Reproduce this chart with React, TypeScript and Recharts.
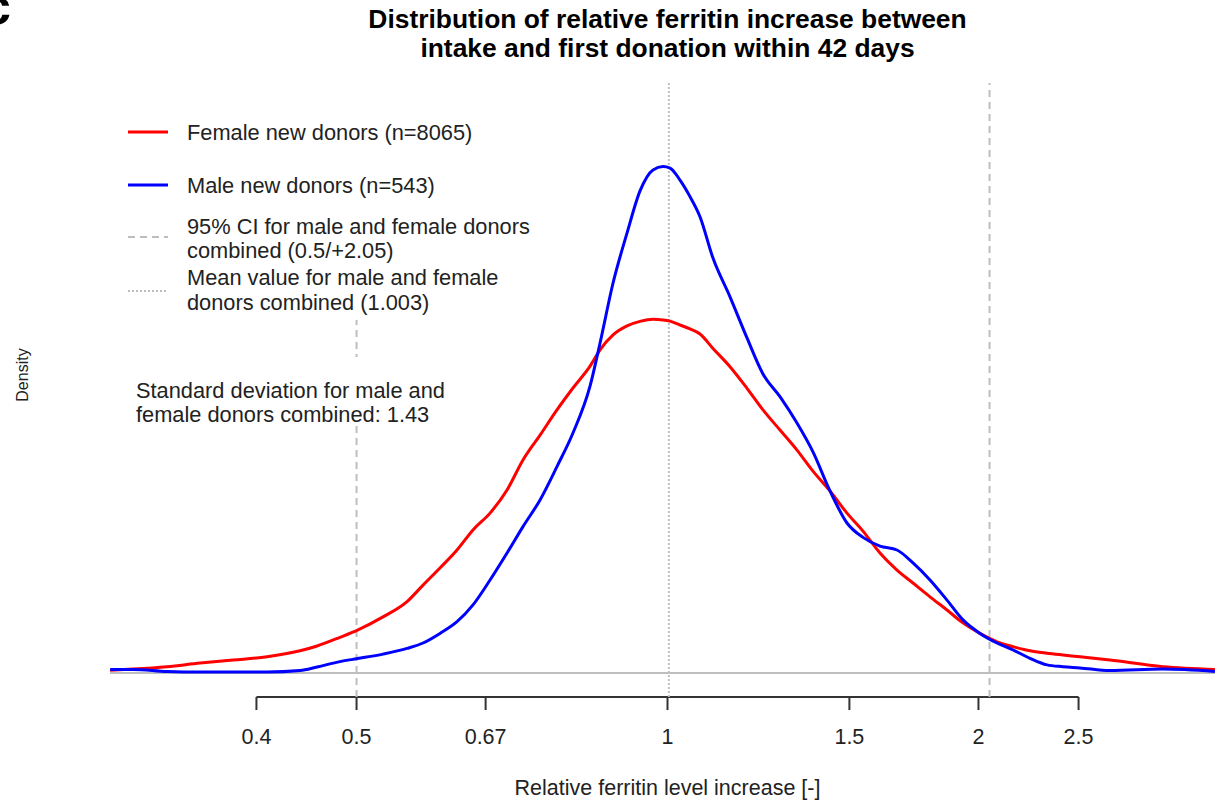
import { LineChart, Line, XAxis, YAxis, ReferenceLine } from "recharts";

// relative ferritin increase (x, log scale) and density
const RATIO = [
  0.2887, 0.3038, 0.3277, 0.3528, 0.3797, 0.4096, 0.4408, 0.4579, 0.4819, 0.5011,
  0.5304, 0.5596, 0.5799, 0.6022, 0.6255, 0.6482, 0.6733, 0.6993, 0.7246, 0.7527,
  0.7816, 0.81, 0.8415, 0.8604, 0.8857, 0.9138, 0.9406, 0.9682, 0.99, 1.0056,
  1.0283, 1.0514, 1.0751, 1.1067, 1.1495, 1.1939, 1.2372, 1.285, 1.3346, 1.383,
  1.4365, 1.492, 1.5461, 1.6058, 1.6679, 1.7284, 1.7952, 1.8645, 1.9322, 2.0067,
  2.0842, 2.1598, 2.2433, 2.33, 2.4146, 2.5079, 2.6811, 3.0172, 3.388,
];
const FEMALE = [
  0.009, 0.013, 0.021, 0.033, 0.043, 0.054, 0.074, 0.09, 0.119, 0.143,
  0.187, 0.238, 0.293, 0.35, 0.41, 0.477, 0.533, 0.61, 0.71, 0.793,
  0.877, 0.95, 1.023, 1.077, 1.127, 1.157, 1.172, 1.179, 1.177, 1.173,
  1.16, 1.147, 1.13, 1.082, 1.021, 0.949, 0.877, 0.81, 0.743, 0.673,
  0.607, 0.533, 0.473, 0.4, 0.343, 0.3, 0.254, 0.21, 0.167, 0.132,
  0.104, 0.088, 0.074, 0.066, 0.06, 0.054, 0.043, 0.021, 0.012,
];
const MALE = [
  0.012, 0.012, 0.005, 0.003, 0.003, 0.003, 0.008, 0.02, 0.038, 0.048,
  0.063, 0.082, 0.1, 0.132, 0.171, 0.227, 0.31, 0.4, 0.488, 0.577,
  0.688, 0.8, 0.957, 1.1, 1.3, 1.467, 1.607, 1.677, 1.688, 1.683,
  1.643, 1.588, 1.521, 1.383, 1.254, 1.117, 0.997, 0.921, 0.833, 0.737,
  0.607, 0.5, 0.452, 0.423, 0.41, 0.367, 0.31, 0.243, 0.177, 0.132,
  0.1, 0.077, 0.049, 0.027, 0.021, 0.017, 0.008, 0.013, 0.005,
];

const TICKS = [0.4, 0.5, 0.6667, 1, 1.5, 2, 2.5];
const TICK_LABELS = ["0.4", "0.5", "0.67", "1", "1.5", "2", "2.5"];
const CI_BOUNDS = [0.5, 2.05];
const MEAN_VALUE = 1.003;

const FONT = "'Liberation Sans', Arial, sans-serif";
const GREY = "#bebebe";
const X_DOMAIN = [0.2886, 3.465];
const Y_DOMAIN = [-0.08, 1.9667];

const data = RATIO.map((ratio, i) => ({ ratio, female: FEMALE[i], male: MALE[i] }));

function AxisTick({ x, y, payload }: any) {
  const i = TICKS.indexOf(payload.value);
  return (
    <text x={x} y={y} dy={32} textAnchor="middle" fontSize={21.5} fill="#222" fontFamily={FONT}>
      {TICK_LABELS[i]}
    </text>
  );
}

export default function App() {
  return (
    <div style={{ position: "absolute", left: 0, top: 0, width: 1215, height: 800, overflow: "hidden", background: "#fff" }}>
      <LineChart width={1225} height={800} data={data} margin={{ top: 83, right: 0, bottom: 73, left: 110 }}>
        <XAxis
          dataKey="ratio"
          type="number"
          scale="log"
          domain={X_DOMAIN}
          allowDataOverflow
          ticks={TICKS}
          tick={<AxisTick />}
          tickSize={13}
          tickLine={{ stroke: "#333", strokeWidth: 2 }}
          axisLine={false}
          height={30}
          interval={0}
        />
        <YAxis hide type="number" domain={Y_DOMAIN} allowDataOverflow />
        <ReferenceLine y={0} stroke={GREY} strokeWidth={2} />
        <ReferenceLine
          segment={[
            { x: TICKS[0], y: Y_DOMAIN[0] },
            { x: TICKS[TICKS.length - 1], y: Y_DOMAIN[0] },
          ]}
          stroke="#333"
          strokeWidth={2}
          ifOverflow="visible"
        />
        {CI_BOUNDS.map((v) => (
          <ReferenceLine key={v} x={v} stroke={GREY} strokeWidth={2} strokeDasharray="7 5" />
        ))}
        <ReferenceLine x={MEAN_VALUE} stroke={GREY} strokeWidth={2} strokeDasharray="2 2" />
        <Line type="monotone" dataKey="female" stroke="#ff0000" strokeWidth={3} dot={false} isAnimationActive={false} />
        <Line type="monotone" dataKey="male" stroke="#0000ff" strokeWidth={3} dot={false} isAnimationActive={false} />
      </LineChart>

      <svg
        width={1215}
        height={800}
        style={{ position: "absolute", left: 0, top: 0, pointerEvents: "none" }}
        fontFamily={FONT}
      >
        <text x={-18} y={24} fontSize={52} fontWeight="bold" fill="#000">c</text>

        <g fontSize={26.4} fontWeight="bold" textAnchor="middle" fill="#000">
          <text x={667.5} y={28}>Distribution of relative ferritin increase between</text>
          <text x={667.5} y={57}>intake and first donation within 42 days</text>
        </g>

        {/* legend */}
        <rect x={110} y={78} width={430} height={242} fill="#fff" />
        <g fontSize={21.8} fill="#222">
          <line x1={128} x2={168} y1={132} y2={132} stroke="#ff0000" strokeWidth={3} />
          <text x={187} y={140}>Female new donors (n=8065)</text>
          <line x1={128} x2={168} y1={185} y2={185} stroke="#0000ff" strokeWidth={3} />
          <text x={187} y={193}>Male new donors (n=543)</text>
          <line x1={128} x2={168} y1={237} y2={237} stroke={GREY} strokeWidth={2} strokeDasharray="7 5" />
          <text x={187} y={234}>95% CI for male and female donors</text>
          <text x={187} y={258}>combined (0.5/+2.05)</text>
          <line x1={128} x2={168} y1={291} y2={291} stroke={GREY} strokeWidth={2} strokeDasharray="2 2" />
          <text x={187} y={285}>Mean value for male and female</text>
          <text x={187} y={310}>donors combined (1.003)</text>
        </g>

        {/* annotation */}
        <rect x={128} y={357} width={330} height={68} fill="#fff" />
        <g fontSize={21.8} fill="#222">
          <text x={136} y={398}>Standard deviation for male and</text>
          <text x={136} y={422}>female donors combined: 1.43</text>
        </g>

        <text x={667.5} y={795} fontSize={21.5} textAnchor="middle" fill="#222">
          Relative ferritin level increase [-]
        </text>
        <text x={27.5} y={375} fontSize={16} textAnchor="middle" fill="#222" transform="rotate(-90 27.5 375)">
          Density
        </text>
      </svg>
    </div>
  );
}
